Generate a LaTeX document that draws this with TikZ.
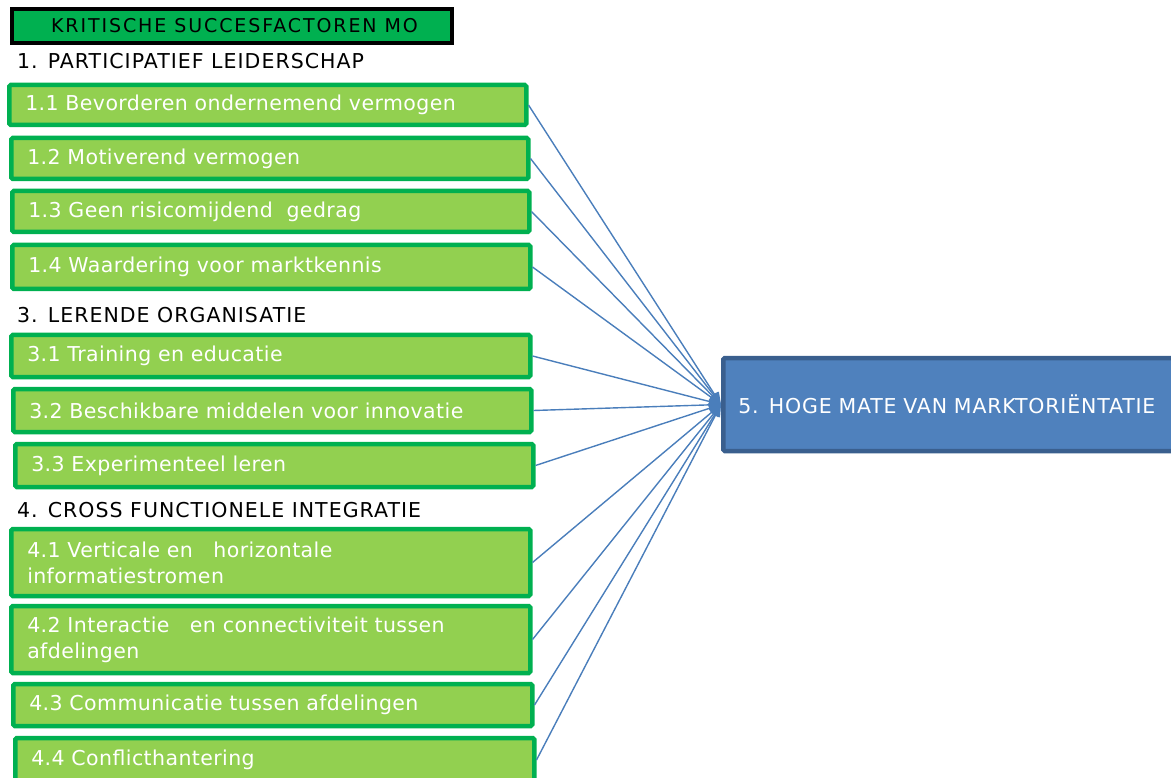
\documentclass[tikz,border=0pt]{standalone}
\usepackage{fontspec}
\setmainfont{DejaVu Sans}
\newfontfamily\factorfont[LetterSpace=2]{DejaVu Sans}
\newfontfamily\headfont[LetterSpace=5]{DejaVu Sans}
\newfontfamily\titlefont[LetterSpace=10]{DejaVu Sans}
\newfontfamily\goalfont[LetterSpace=4]{DejaVu Sans}
\usetikzlibrary{arrows.meta}
\definecolor{boxgreen}{HTML}{92D050}
\definecolor{edgegreen}{HTML}{00B050}
\definecolor{goalblue}{HTML}{4F81BD}
\definecolor{goaledge}{HTML}{3A5F8E}
\definecolor{linkblue}{HTML}{4A7EBB}
\tikzset{
  factor/.style={draw=edgegreen, fill=boxgreen, line width=4.5pt, rounded corners=1.5pt,
    anchor=west, align=left, inner xsep=16pt, inner ysep=0pt, text=white,
    font=\factorfont\fontsize{20.5}{26}\selectfont},
  heading/.style={anchor=west, inner sep=0pt, text=black,
    font=\headfont\fontsize{20.5}{22}\selectfont},
  titlebox/.style={draw=black, fill=edgegreen, line width=4pt, anchor=west,
    minimum width=440pt, minimum height=34pt, inner sep=0pt, text=black,
    font=\titlefont\fontsize{19}{21}\selectfont},
  goalbox/.style={draw=goaledge, fill=goalblue, line width=4.5pt, rounded corners=1.5pt,
    anchor=west, minimum height=93pt, inner xsep=15pt, inner ysep=0pt, text=white,
    text width=450pt, align=left, font=\goalfont\fontsize{20.5}{22}\selectfont},
  link/.style={draw=linkblue, line width=1.4pt, -{Triangle[length=12pt,width=10pt]}}
}
\begin{document}
\begin{tikzpicture}[x=1pt, y=-1pt]
\useasboundingbox (0,0) rectangle (1171,778);
\clip (0,0) rectangle (1171,778);

% title bar
\node[titlebox] (title) at (10,26) {\hspace*{5pt}KRITISCHE SUCCESFACTOREN MO};

% group 1
\node[heading] (h1) at (17,61) {1. PARTICIPATIEF LEIDERSCHAP};
\node[factor, text width=485pt, minimum height=40pt] (f11) at (7,105) {1.1 Bevorderen ondernemend vermogen};
\node[factor, text width=485pt, minimum height=41pt] (f12) at (9,158.5) {1.2 Motiverend vermogen};
\node[factor, text width=485pt, minimum height=41pt] (f13) at (10,211.5) {1.3 Geen risicomijdend\ \ gedrag};
\node[factor, text width=486pt, minimum height=44pt] (f14) at (10,267) {1.4 Waardering voor marktkennis};

% group 3
\node[heading] (h3) at (17,315) {3. LERENDE ORGANISATIE};
\node[factor, text width=487pt, minimum height=42pt] (f31) at (9,356) {3.1 Training en educatie};
\node[factor, text width=486pt, minimum height=43pt] (f32) at (11,410.5) {3.2 Beschikbare middelen voor innovatie};
\node[factor, text width=486pt, minimum height=43pt] (f33) at (13,465.5) {3.3 Experimenteel leren};

% group 4
\node[heading] (h4) at (17,510) {4. CROSS FUNCTIONELE INTEGRATIE};
\node[factor, text width=487pt, minimum height=67pt] (f41) at (9,562.5) {4.1 Verticale en\ \ \ horizontale\\informatiestromen};
\node[factor, text width=487pt, minimum height=67pt] (f42) at (9,639.5) {4.2 Interactie\ \ \ en connectiviteit tussen\\afdelingen};
\node[factor, text width=487pt, minimum height=42pt] (f43) at (11,705) {4.3 Communicatie tussen afdelingen};
\node[factor, text width=487pt, minimum height=44pt] (f44) at (13,760) {4.4 Conflicthantering};

% outcome
\node[goalbox] (goal) at (721,404.5) {5. HOGE MATE VAN MARKTORIËNTATIE};

% connectors
\foreach \f in {f11,f12,f13,f14,f31,f32,f33,f41,f42,f43,f44}
  \draw[link] (\f.east) -- (goal.west);
\end{tikzpicture}
\end{document}
